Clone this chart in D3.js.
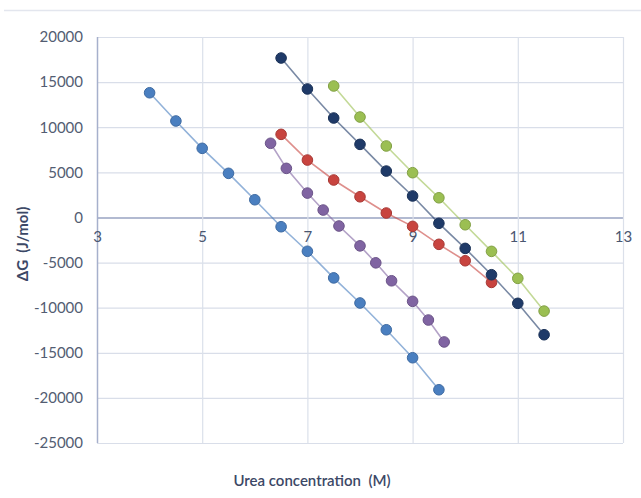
<!DOCTYPE html>
<html>
<head>
<meta charset="utf-8">
<script src="https://cdn.jsdelivr.net/npm/d3@7/dist/d3.min.js"></script>
<style>
  html, body { margin: 0; padding: 0; background: #ffffff; }
  svg { display: block; }
  svg text { white-space: pre; }
  .tick text { font-family: Lato, "Open Sans", sans-serif; }
</style>
</head>
<body>
<script>
// Urea denaturation: ΔG versus urea concentration for five samples
const seriesNames = ["S1", "S2", "S3", "S4", "S5"];
const seriesColors = ["#4a7fc0", "#8064a2", "#c8443f", "#1f3a68", "#9bbf52"];

const xS1 = [4, 4.5, 5, 5.5, 6, 6.5, 7, 7.5, 8, 8.5, 9, 9.5];
const yS1 = [13820, 10690, 7660, 4890, 1960, -1030, -3750, -6700, -9480, -12450, -15550, -19100];

const xS2 = [6.3, 6.6, 7, 7.3, 7.6, 8, 8.3, 8.6, 9, 9.3, 9.6];
const yS2 = [8220, 5440, 2700, 820, -950, -3150, -5030, -7020, -9300, -11370, -13800];

const xS3 = [6.5, 7, 7.5, 8, 8.5, 9, 9.5, 10, 10.5];
const yS3 = [9210, 6360, 4150, 2290, 490, -990, -2980, -4800, -7200];

const xS4 = [6.5, 7, 7.5, 8, 8.5, 9, 9.5, 10, 10.5, 11, 11.5];
const yS4 = [17670, 14240, 11020, 8100, 5140, 2380, -650, -3430, -6350, -9520, -13000];

const xS5 = [7.5, 8, 8.5, 9, 9.5, 10, 10.5, 11, 11.5];
const yS5 = [14570, 11130, 7920, 4960, 2180, -810, -3760, -6750, -10380];

const xTicks = [3, 5, 7, 9, 11, 13];
const yTicks = [20000, 15000, 10000, 5000, 0, -5000, -10000, -15000, -20000, -25000];

const xTitle = "Urea concentration  (M)";
const yTitle = "ΔG  (J/mol)";

const seriesX = [xS1, xS2, xS3, xS4, xS5];
const seriesY = [yS1, yS2, yS3, yS4, yS5];
const series = seriesNames.map((name, i) => ({
  name,
  color: seriesColors[i],
  points: seriesX[i].map((x, j) => ({ x, y: seriesY[i][j] }))
}));

const W = 641, H = 498;
const plot = { left: 97, right: 623, top: 37, bottom: 443 };
const plainNumber = d => String(d);

const svg = d3.select("body").append("svg")
  .attr("width", W).attr("height", H);

svg.append("rect").attr("width", W).attr("height", H).attr("fill", "#ffffff");

// faint chart-area border along the top
svg.append("line")
  .attr("x1", 4).attr("x2", W).attr("y1", 10.5).attr("y2", 10.5)
  .attr("stroke", "#e3e6ee").attr("stroke-width", 1.5);

const x = d3.scaleLinear().domain([3, 13]).range([plot.left, plot.right]);
const y = d3.scaleLinear().domain([-25000, 20000]).range([plot.bottom, plot.top]);

// horizontal gridlines + y tick labels
const yAxis = svg.append("g")
  .attr("transform", `translate(${plot.left},0)`)
  .call(d3.axisLeft(y).tickValues(yTicks).tickSize(-(plot.right - plot.left)).tickPadding(14).tickFormat(plainNumber));
yAxis.select(".domain").remove();
yAxis.selectAll(".tick line")
  .attr("stroke", d => d === 0 ? "#98a3c2" : "#d9dee9")
  .attr("stroke-width", d => d === 0 ? 1.6 : 1.2);
yAxis.selectAll(".tick text")
  .attr("fill", "#535d72").attr("font-size", 15);

// vertical gridlines
const xGrid = svg.append("g")
  .attr("transform", `translate(0,${plot.bottom})`)
  .call(d3.axisBottom(x).tickValues(xTicks).tickSize(-(plot.bottom - plot.top)).tickFormat(""));
xGrid.select(".domain").remove();
xGrid.selectAll(".tick line")
  .attr("stroke", d => d === 3 ? "#a6b0cc" : "#dbe0ea")
  .attr("stroke-width", d => d === 3 ? 1.5 : 1.2);

// x tick labels sit on the zero line
const xAxis = svg.append("g")
  .attr("transform", `translate(0,${y(0)})`)
  .call(d3.axisBottom(x).tickValues(xTicks).tickSize(0).tickPadding(14).tickFormat(plainNumber));
xAxis.select(".domain").remove();
xAxis.selectAll(".tick text")
  .attr("fill", "#4a5670").attr("font-size", 15);

// series lines and markers
const line = d3.line().x(d => x(d.x)).y(d => y(d.y));
const g = svg.append("g");
series.forEach(s => {
  g.append("path")
    .datum(s.points)
    .attr("d", line)
    .attr("fill", "none")
    .attr("stroke", s.color)
    .attr("stroke-opacity", 0.6)
    .attr("stroke-width", 1.6);
});
series.forEach(s => {
  g.selectAll(null)
    .data(s.points)
    .enter().append("circle")
    .attr("cx", d => x(d.x))
    .attr("cy", d => y(d.y))
    .attr("r", 5.3)
    .attr("fill", s.color)
    .attr("stroke", d3.color(s.color).darker(0.5))
    .attr("stroke-width", 1);
});

// axis titles
svg.append("text")
  .attr("x", 312).attr("y", 486)
  .attr("text-anchor", "middle")
  .attr("font-family", "Lato, 'Open Sans', sans-serif")
  .attr("font-size", 15)
  .attr("font-weight", 600)
  .attr("fill", "#3c4866")
  .text(xTitle);

svg.append("text")
  .attr("transform", "translate(28,244) rotate(-90)")
  .attr("text-anchor", "middle")
  .attr("font-family", "Lato, 'Open Sans', sans-serif")
  .attr("font-size", 15)
  .attr("font-weight", 700)
  .attr("fill", "#3c4866")
  .text(yTitle);
</script>
</body>
</html>
